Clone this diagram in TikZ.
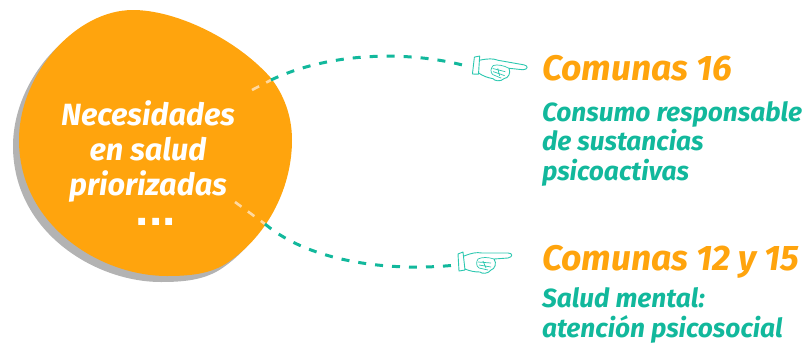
\documentclass[tikz,border=0pt]{standalone}
\usepackage{fontspec}
\setmainfont{Fira Sans}[BoldFeatures={FakeBold=2.2}]
\newfontfamily\puntosfont{Liberation Sans}
\usepackage{tikz}
\usetikzlibrary{positioning}
\definecolor{naranja}{HTML}{FFA40D}
\definecolor{verde}{HTML}{12B89C}
\definecolor{verdeclaro}{HTML}{2CC8B0}
\definecolor{sombra}{HTML}{B3B3B3}
\definecolor{palido}{HTML}{FFD9A0}
\newcommand{\blobpath}{(19,140) .. controls (19,75) and (75,10) .. (133,10)
  .. controls (175,10) and (235,38) .. (270,77)
  .. controls (283,93) and (292,115) .. (292,140)
  .. controls (292,185) and (270,234) .. (227,263)
  .. controls (210,274) and (190,276) .. (167,276)
  .. controls (100,276) and (19,225) .. (19,140) -- cycle}
\tikzset{
  mano/.pic={
    \draw[verdeclaro,line width=0.9pt,fill=white,line join=round]
      (0,-8) -- (5,-10) -- (7,8) -- (1,9) -- cycle
      (6,-6) .. controls (14,-9) and (18,-10) .. (24,-9) -- (50,-9)
      .. controls (55,-9) and (55,-5) .. (50,-4) -- (36,-3)
      .. controls (39,1) and (37,7) .. (33,8)
      .. controls (30,12) and (24,12) .. (22,10)
      .. controls (16,10) and (12,9) .. (7,7);
    \draw[verdeclaro,line width=0.7pt]
      (20,-3) .. controls (24,-5) and (30,-5) .. (36,-3)
      (20,0) -- (33,1)
      (21,3) -- (33,5)
      (21,6) -- (30,8)
      (25,-1) -- (28,6)
      (20,-3) .. controls (18,0) and (18,4) .. (21,6);
  }
}
\begin{document}
\begin{tikzpicture}[x=1pt,y=-1pt,
    texto/.style={inner sep=0pt,outer sep=0pt,anchor=base west,align=left},
    titulo/.style={texto,text=naranja,font=\fontsize{35.5}{35}\selectfont\bfseries\itshape},
    detalle/.style={texto,text=verde,font=\fontsize{26.3}{29.5}\selectfont\bfseries\itshape},
    enlace/.style={verde,line width=3pt,dash pattern=on 8pt off 9pt},
    enlacein/.style={palido,line width=2.6pt,dash pattern=on 8pt off 8pt}]
  \useasboundingbox (0,0) rectangle (803,343);

  \fill[sombra,shift={(-6,6)}] \blobpath;
  \fill[naranja] \blobpath;

  \node[text=white,align=center,inner sep=0pt,anchor=base,font=\fontsize{30.7}{35}\selectfont\bfseries\itshape] (necesidades) at (148,195) {Necesidades\\en salud\\priorizadas};
  \node[text=white,inner sep=0pt,anchor=base,font=\fontsize{48}{48}\selectfont\puntosfont\bfseries] (puntos) at (156,225) {...};

  \node[titulo] (comunasA) at (542,80) {Comunas 16};
  \node[detalle] (consumo) at (542,180) {Consumo responsable\\de sustancias\\psicoactivas};
  \node[titulo] (comunasB) at (542,270) {Comunas 12 y 15};
  \node[detalle] (salud) at (542,337) {Salud mental:\\atención psicosocial};

  \pic (manoA) at (473,65) [rotate=-10] {mano};
  \pic (manoB) at (458,262) {mano};

  \coordinate (iniA) at (252,90);
  \coordinate (bordeA) at (271,80);
  \coordinate (finA) at (470,67);
  \coordinate (iniB) at (235,202);
  \coordinate (bordeB) at (265,224);
  \coordinate (finB) at (456,265);

  \draw[enlacein] (iniA) -- (bordeA);
  \draw[enlace] (bordeA) .. controls (330,52) and (410,50) .. (finA);
  \draw[enlacein] (iniB) -- (bordeB);
  \draw[enlace] (bordeB) .. controls (310,262) and (390,272) .. (finB);
\end{tikzpicture}
\end{document}
